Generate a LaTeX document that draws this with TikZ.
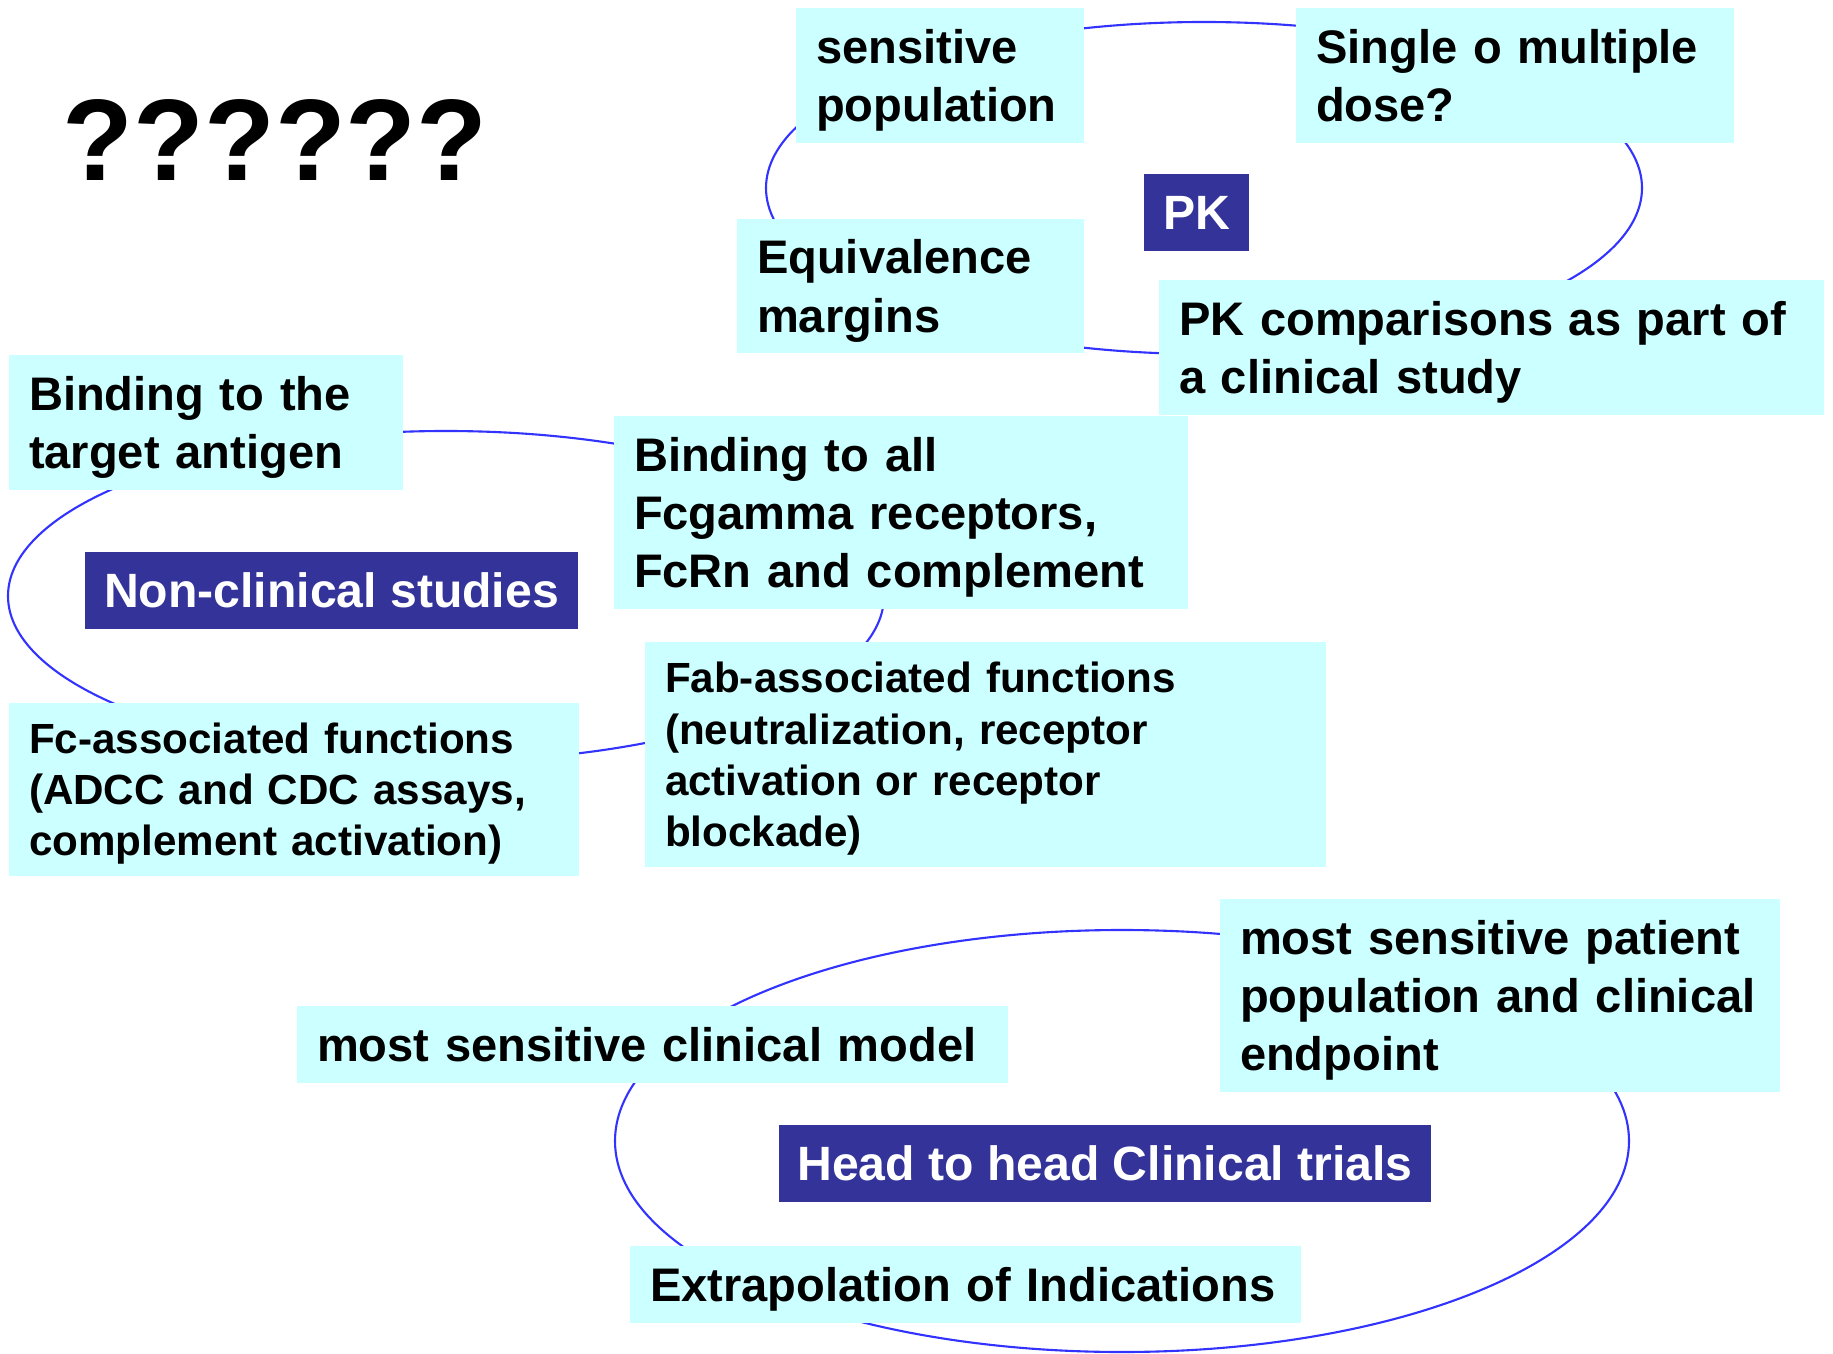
\documentclass[tikz,border=0pt]{standalone}
\usepackage{fontspec}
\setmainfont{Liberation Sans}
\usetikzlibrary{shapes.geometric}
\definecolor{fondocaja}{HTML}{CCFFFF}
\definecolor{fondotitulo}{HTML}{333399}
\definecolor{azulanillo}{HTML}{3333FF}

\begin{document}
\begin{tikzpicture}[
        every node/.style={font=\bfseries\fontsize{13.4}{16.6}\selectfont},
        anillo/.style={draw=azulanillo, line width=0.6pt, ellipse, inner sep=0pt, outer sep=0pt},
        caja/.style={fill=fondocaja, align=left, inner xsep=0.2cm, inner ysep=0pt,
            execute at begin node={\hyphenpenalty=10000\rule{0pt}{0.97em}},
            execute at end node={\rule[-0.25em]{0pt}{0.25em}}},
        chica/.style={font=\bfseries\fontsize{12}{14.6}\selectfont},
        titulo/.style={fill=fondotitulo, text=white, minimum height=0.77cm, inner sep=0pt,
            font=\bfseries\fontsize{13.7}{16.6}\selectfont}
    ]
    \useasboundingbox (0,0) rectangle (18.33,13.53);

    % Anillos
    \node[anillo, minimum width=8.76cm, minimum height=3.32cm] (anilloPK) at (12.04,11.65) {};
    \node[anillo, minimum width=8.76cm, minimum height=3.30cm] (anilloNC) at (4.46,7.57) {};
    \node[anillo, minimum width=10.14cm, minimum height=4.22cm] (anilloCT) at (11.22,2.12) {};

    % Preguntas
    \node[font=\bfseries\fontsize{33}{36}\selectfont] (preguntas) at (2.75,12.13) {??????};

    % PK
    \node[caja, text width=2.48cm, minimum height=1.35cm] (sensible) at (9.40,12.775) {sensitive\\population};
    \node[caja, text width=3.98cm, minimum height=1.35cm] (dosis) at (15.15,12.775) {Single o multiple\\dose?};
    \node[titulo, minimum width=1.05cm] (pk) at (11.965,11.405) {PK};
    \node[caja, text width=3.07cm, minimum height=1.34cm] (margenes) at (9.105,10.67) {Equivalence\\margins};
    \node[caja, text width=6.25cm, minimum height=1.35cm] (comparacion) at (14.915,10.055) {PK comparisons as part of\\a clinical study};

    % Estudios no clinicos
    \node[caja, text width=3.54cm, minimum height=1.35cm] (antigeno) at (2.06,9.305) {Binding to the\\target antigen};
    \node[caja, text width=5.34cm, minimum height=1.93cm] (receptores) at (9.01,8.405) {Binding to all\\Fcgamma receptors,\\FcRn and complement};
    \node[titulo, minimum width=4.93cm] (noclinico) at (3.315,7.625) {Non-clinical studies};
    \node[caja, chica, text width=5.30cm, minimum height=1.73cm] (funcfc) at (2.94,5.635) {Fc-associated functions\\(ADCC and CDC assays,\\complement activation)};
    \node[caja, chica, text width=6.41cm, minimum height=2.25cm] (funcfab) at (9.855,5.985) {Fab-associated functions\\(neutralization, receptor\\activation or receptor\\blockade)};

    % Ensayos clinicos
    \node[caja, text width=6.71cm, minimum height=0.77cm] (modelo) at (6.525,3.085) {most sensitive clinical model};
    \node[caja, text width=5.20cm, minimum height=1.93cm] (paciente) at (15.00,3.575) {most sensitive patient\\population and clinical\\endpoint};
    \node[titulo, minimum width=6.52cm] (ensayos) at (11.05,1.895) {Head to head Clinical trials};
    \node[caja, text width=6.31cm, minimum height=0.77cm] (extrapolacion) at (9.655,0.685) {Extrapolation of Indications};
\end{tikzpicture}
\end{document}
